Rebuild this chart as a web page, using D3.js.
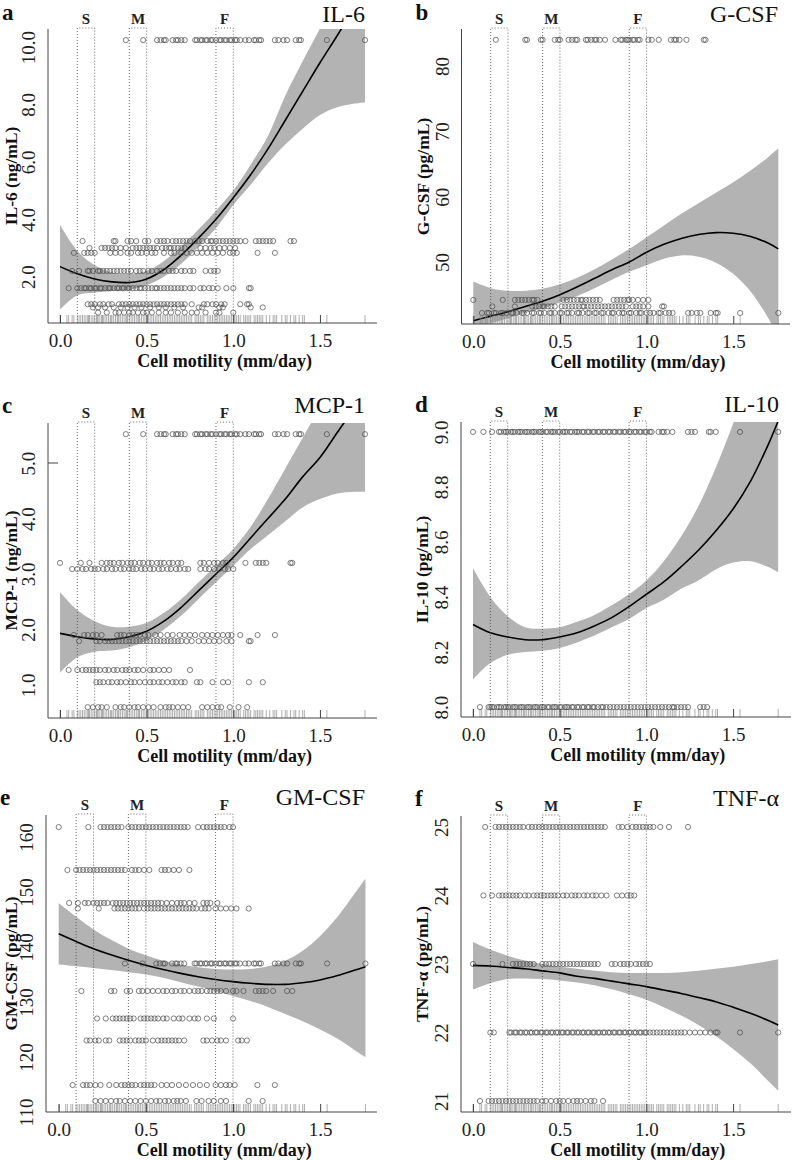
<!DOCTYPE html>
<html><head><meta charset="utf-8">
<script src="https://cdn.jsdelivr.net/npm/d3@7"></script>
<style>body{margin:0;background:#fff}svg text{font-family:"Liberation Serif","Times New Roman",serif}</style>
</head><body><svg id="c" width="793" height="1160"></svg>
<script>
// ---------- DATA ----------
const panelLetters = ["a","b","c","d","e","f"];
const panelTitles = ["IL-6","G-CSF","MCP-1","IL-10","GM-CSF","TNF-α"];
const yTitles = ["IL-6 (ng/mL)","G-CSF (pg/mL)","MCP-1 (ng/mL)","IL-10 (pg/mL)","GM-CSF (pg/mL)","TNF-α (pg/mL)"];
const xTitle = "Cell motility (mm/day)";
const xTicks = [0, 0.5, 1.0, 1.5];
const yTicksA = [2, 4, 6, 8, 10];
const yTicksB = [50, 60, 70, 80];
const yTicksC = [1, 2, 3, 4, 5];
const yTicksD = [8.0, 8.2, 8.4, 8.6, 8.8, 9.0];
const yTicksE = [110, 120, 130, 140, 150, 160];
const yTicksF = [21, 22, 23, 24, 25];
const boxLo = [0.1, 0.4, 0.9];
const boxHi = [0.2, 0.5, 1.0];
const boxLab = ["S", "M", "F"];

// rug: observed cell motility values
const motility = [0.0,0.04,0.05,0.07,0.08,0.1,0.11,0.12,0.13,0.14,0.15,0.16,0.165,0.17,0.18,0.19,0.2,0.21,0.215,0.22,0.23,0.24,0.245,0.25,0.26,0.27,0.28,0.29,0.295,0.3,0.31,0.32,0.33,0.335,0.34,0.35,0.36,0.37,0.38,0.385,0.39,0.4,0.41,0.42,0.43,0.44,0.45,0.455,0.46,0.47,0.48,0.49,0.5,0.51,0.52,0.53,0.54,0.55,0.56,0.57,0.58,0.59,0.6,0.61,0.62,0.63,0.64,0.65,0.66,0.67,0.68,0.69,0.7,0.71,0.72,0.73,0.74,0.75,0.76,0.78,0.79,0.8,0.81,0.82,0.83,0.85,0.86,0.87,0.88,0.89,0.9,0.91,0.92,0.93,0.94,0.95,0.96,0.97,0.98,0.99,1.0,1.01,1.02,1.03,1.04,1.06,1.07,1.08,1.09,1.1,1.12,1.13,1.14,1.15,1.16,1.17,1.19,1.21,1.23,1.24,1.25,1.28,1.3,1.31,1.33,1.35,1.36,1.38,1.4,1.41,1.54,1.76];

// fitted curve grid
const fitGrid = [0,0.1,0.2,0.3,0.4,0.5,0.6,0.7,0.8,0.9,1.0,1.1,1.2,1.3,1.4,1.5,1.6,1.7,1.76];
const fitA = [2.35,2.1,1.92,1.82,1.8,1.92,2.25,2.75,3.35,4.0,4.75,5.55,6.45,7.45,8.45,9.45,10.4,11.4,12.0];
const hiA  = [3.8,2.9,2.4,2.15,2.1,2.2,2.55,3.05,3.65,4.3,5.0,5.9,6.9,8.3,9.5,10.65,11.9,13.2,14.0];
const loA  = [0.85,1.35,1.45,1.5,1.55,1.7,2.0,2.45,3.05,3.7,4.5,5.2,5.95,6.6,7.15,7.63,7.9,8.03,8.07];
const fitB = [41.0,41.7,42.4,43.2,44.0,45.0,46.2,47.5,48.8,50.0,51.5,52.7,53.6,54.2,54.5,54.4,53.9,52.9,52.0];
const hiB  = [47.0,46.0,45.6,45.6,45.9,46.6,47.6,48.9,50.4,52.0,53.8,55.6,57.4,59.0,60.6,62.2,64.0,66.0,67.4];
const loB  = [39.5,40.6,41.4,42.2,42.9,43.8,44.8,46.0,47.3,48.5,49.5,50.5,51.0,50.8,49.9,48.2,45.5,41.5,38.5];
const fitC = [1.93,1.87,1.83,1.82,1.87,1.97,2.15,2.4,2.7,3.0,3.3,3.65,4.0,4.35,4.75,5.1,5.55,6.0,6.3];
const hiC  = [2.67,2.35,2.15,2.05,2.05,2.12,2.3,2.55,2.85,3.15,3.45,3.85,4.35,4.9,5.45,6.0,6.5,7.0,7.3];
const loC  = [1.22,1.5,1.6,1.62,1.68,1.8,2.0,2.25,2.55,2.85,3.15,3.45,3.7,3.95,4.2,4.35,4.45,4.48,4.48];
const fitD = [8.30,8.27,8.255,8.245,8.245,8.255,8.27,8.295,8.325,8.365,8.41,8.455,8.51,8.57,8.64,8.72,8.82,8.95,9.04];
const hiD  = [8.505,8.40,8.33,8.29,8.285,8.29,8.31,8.335,8.37,8.41,8.46,8.53,8.62,8.73,8.87,9.03,9.2,9.4,9.55];
const loD  = [8.10,8.16,8.19,8.20,8.205,8.215,8.235,8.26,8.29,8.32,8.36,8.39,8.43,8.46,8.50,8.525,8.53,8.51,8.49];
const fitE = [142.4,141.0,139.7,138.6,137.6,136.7,135.9,135.2,134.6,134.1,133.7,133.4,133.2,133.2,133.5,134.0,134.8,135.8,136.4];
const hiE  = [148.0,145.5,143.2,141.3,139.7,138.5,137.5,136.8,136.3,136.0,135.9,136.0,136.5,137.5,139.3,142.0,145.5,149.8,152.4];
const loE  = [136.8,136.5,136.2,135.8,135.4,135.0,134.4,133.6,132.8,132.0,131.1,130.2,129.1,127.8,126.5,125.0,123.3,121.2,120.0];
const fitF = [22.98,22.97,22.95,22.93,22.90,22.87,22.82,22.79,22.75,22.71,22.67,22.62,22.57,22.51,22.45,22.37,22.28,22.18,22.11];
const hiF  = [23.32,23.21,23.12,23.05,23.0,22.96,22.93,22.9,22.88,22.87,22.87,22.87,22.88,22.9,22.93,22.96,23.0,23.04,23.07];
const loF  = [22.63,22.72,22.78,22.79,22.78,22.76,22.73,22.69,22.63,22.56,22.48,22.37,22.25,22.11,21.95,21.76,21.55,21.3,21.15];

// observed points: one level per row, motility values on that row
const highRowX = [0.38,0.48,0.56,0.58,0.60,0.61,0.65,0.67,0.68,0.70,0.72,0.78,0.79,0.81,0.82,0.84,0.85,0.87,0.88,0.90,0.92,0.93,0.95,0.96,0.98,0.99,1.01,1.02,1.04,1.07,1.09,1.12,1.13,1.15,1.16,1.24,1.26,1.29,1.31,1.36,1.38,1.39,1.54,1.76];

const aLevels = [10.24, 3.24, 3.0, 2.83, 2.2, 1.6, 1.04, 0.93, 0.75];
const aRows = [
 highRowX,
 [0.13,0.31,0.32,0.39,0.41,0.44,0.49,0.51,0.56,0.58,0.60,0.62,0.65,0.67,0.69,0.71,0.73,0.75,0.78,0.80,0.82,0.85,0.87,0.88,0.90,0.92,0.94,0.96,0.98,1.00,1.02,1.04,1.07,1.13,1.15,1.17,1.19,1.21,1.23,1.33,1.35],
 [0.17,0.24,0.26,0.28,0.30,0.32,0.35,0.38,0.42,0.44,0.46,0.48,0.50,0.52,0.54,0.56,0.59,0.61,0.63,0.64,0.66,0.68,0.70,0.72,0.81,0.84,0.87,0.89,0.92,0.95,0.98,1.01],
 [0.08,0.14,0.16,0.18,0.20,0.29,0.32,0.35,0.39,0.41,0.45,0.47,0.50,0.53,0.55,0.60,0.64,0.66,0.70,0.73,0.76,0.79,0.82,0.85,0.88,0.91,0.94,0.98,1.00,1.02,1.14,1.24],
 [0.07,0.11,0.16,0.17,0.19,0.22,0.23,0.25,0.27,0.29,0.31,0.33,0.35,0.37,0.39,0.41,0.44,0.46,0.48,0.51,0.53,0.56,0.58,0.60,0.63,0.65,0.67,0.70,0.72,0.75,0.77,0.84,0.87,0.89,0.91],
 [0.05,0.10,0.12,0.14,0.15,0.17,0.18,0.20,0.21,0.23,0.24,0.26,0.28,0.29,0.31,0.33,0.34,0.36,0.37,0.39,0.40,0.42,0.44,0.46,0.47,0.49,0.51,0.53,0.55,0.56,0.58,0.60,0.62,0.64,0.66,0.68,0.70,0.72,0.75,0.77,0.81,0.83,0.86,0.88,0.91,0.96,1.00,1.09,1.10],
 [0.16,0.18,0.20,0.23,0.25,0.28,0.30,0.34,0.36,0.38,0.40,0.42,0.44,0.46,0.48,0.50,0.52,0.54,0.56,0.58,0.60,0.62,0.64,0.66,0.68,0.70,0.72,0.76,0.83,0.85,0.88,0.90,0.93,0.95,1.04,1.08,1.09],
 [0.19,0.22,0.26,0.31,0.35,0.39,0.43,0.47,0.52,0.57,0.61,0.66,0.71,0.80,0.82,0.92,0.94,1.10,1.17],
 [0.22,0.27,0.32,0.34,0.37,0.40,0.42,0.45,0.48,0.50,0.53,0.57,0.61,0.64,0.68,0.72,0.76,0.79,0.84,0.90,0.92,1.00]
];
const bLevels = [84, 44.2, 43.2, 42.2];
const bRows = [
 [0.13,0.30,0.31,0.39,0.40,0.47,0.49,0.50,0.55,0.57,0.59,0.60,0.65,0.66,0.68,0.70,0.71,0.73,0.76,0.82,0.85,0.86,0.88,0.89,0.90,0.92,0.93,0.95,0.96,1.01,1.03,1.07,1.14,1.16,1.17,1.19,1.23,1.33,1.34],
 [0.0,0.17,0.24,0.26,0.28,0.30,0.32,0.34,0.35,0.37,0.52,0.54,0.56,0.58,0.60,0.62,0.63,0.65,0.67,0.69,0.71,0.73,0.81,0.83,0.85,0.87,0.89,0.90,0.92,0.95,0.98,1.01],
 [0.11,0.24,0.34,0.36,0.38,0.40,0.41,0.43,0.45,0.47,0.51,0.53,0.55,0.57,0.59,0.61,0.63,0.64,0.66,0.68,0.70,0.72,0.74,0.76,0.78,0.80,0.82,0.84,0.86,0.88,0.92,0.94,0.96,0.98,1.01,1.09,1.10],
 [0.05,0.08,0.09,0.12,0.13,0.16,0.17,0.19,0.22,0.23,0.25,0.28,0.29,0.31,0.34,0.35,0.38,0.39,0.41,0.44,0.45,0.47,0.50,0.51,0.54,0.55,0.57,0.60,0.61,0.63,0.66,0.67,0.70,0.71,0.74,0.75,0.78,0.80,0.81,0.84,0.86,0.87,0.90,0.91,0.94,0.96,0.97,1.00,1.02,1.04,1.07,1.08,1.11,1.13,1.15,1.24,1.26,1.29,1.31,1.37,1.40,1.41,1.54,1.76]
];
const cLevels = [5.52, 3.2, 3.09, 1.9, 1.79, 1.27, 1.05, 0.6];
const cRows = [
 highRowX,
 [0.0,0.12,0.17,0.24,0.27,0.29,0.31,0.34,0.36,0.39,0.41,0.43,0.46,0.48,0.51,0.53,0.56,0.58,0.60,0.63,0.65,0.68,0.70,0.81,0.83,0.86,0.89,0.91,0.94,0.96,1.07,1.13,1.15,1.17,1.19,1.33,1.34],
 [0.07,0.10,0.13,0.15,0.18,0.20,0.22,0.25,0.27,0.30,0.32,0.35,0.37,0.40,0.42,0.44,0.47,0.49,0.52,0.54,0.57,0.59,0.62,0.64,0.67,0.69,0.72,0.74,0.81,0.84,0.86,0.89,0.92,0.95,0.97,1.00],
 [0.08,0.14,0.16,0.19,0.21,0.24,0.33,0.35,0.37,0.40,0.42,0.44,0.46,0.49,0.51,0.55,0.58,0.62,0.65,0.69,0.72,0.75,0.78,0.82,0.85,0.88,0.91,0.94,0.97,0.99,1.04,1.14,1.24],
 [0.11,0.21,0.23,0.26,0.28,0.30,0.32,0.34,0.36,0.38,0.40,0.42,0.44,0.46,0.48,0.50,0.52,0.54,0.56,0.58,0.60,0.62,0.64,0.66,0.68,0.70,0.73,0.76,0.80,0.83,0.86,0.89,0.92,0.96,0.99,1.09,1.10],
 [0.05,0.10,0.13,0.15,0.17,0.19,0.21,0.23,0.26,0.28,0.31,0.33,0.36,0.38,0.40,0.43,0.45,0.48,0.52,0.54,0.57,0.60,0.63,0.75],
 [0.21,0.23,0.25,0.28,0.30,0.33,0.35,0.38,0.41,0.43,0.46,0.49,0.52,0.54,0.57,0.59,0.62,0.65,0.67,0.70,0.72,0.79,0.81,0.88,0.94,0.97,1.09,1.17],
 [0.16,0.19,0.22,0.24,0.27,0.32,0.35,0.37,0.40,0.43,0.45,0.48,0.51,0.54,0.58,0.61,0.63,0.65,0.68,0.71,0.74,0.82,0.85,0.88,0.91,0.93,0.98,1.03,1.08]
];
const dLevels = [9.0, 8.0];
const dRows = [
 [0.0,0.06,0.11,0.15,0.16,0.18,0.19,0.2,0.22,0.23,0.24,0.26,0.27,0.28,0.3,0.31,0.32,0.34,0.35,0.36,0.38,0.39,0.4,0.42,0.43,0.45,0.46,0.47,0.49,0.5,0.52,0.53,0.54,0.56,0.57,0.59,0.6,0.61,0.63,0.64,0.66,0.67,0.69,0.7,0.72,0.73,0.75,0.76,0.78,0.79,0.81,0.82,0.84,0.85,0.87,0.88,0.9,0.91,0.93,0.94,0.96,0.97,0.99,1.0,1.02,1.03,1.07,1.09,1.1,1.12,1.15,1.24,1.26,1.28,1.36,1.37,1.4,1.54,1.76],
 [0.04,0.09,0.1,0.11,0.12,0.14,0.15,0.16,0.18,0.19,0.2,0.21,0.23,0.24,0.25,0.27,0.28,0.29,0.31,0.32,0.33,0.35,0.36,0.37,0.39,0.4,0.41,0.43,0.44,0.46,0.47,0.48,0.5,0.51,0.53,0.54,0.55,0.57,0.58,0.6,0.61,0.63,0.64,0.66,0.67,0.69,0.7,0.72,0.74,0.75,0.77,0.79,0.81,0.83,0.85,0.87,0.89,0.91,0.93,0.95,0.97,0.99,1.01,1.03,1.05,1.07,1.09,1.11,1.13,1.15,1.16,1.18,1.2,1.22,1.24,1.31,1.33,1.35]
];
const eLevels = [161.8, 154, 148, 147, 137, 132, 127, 123, 114.9, 112];
const eRows = [
 [0.0,0.17,0.24,0.26,0.28,0.30,0.32,0.34,0.36,0.40,0.42,0.44,0.46,0.48,0.50,0.52,0.54,0.56,0.58,0.60,0.62,0.64,0.66,0.68,0.70,0.72,0.74,0.80,0.83,0.85,0.87,0.89,0.91,0.93,0.95,0.98,1.00],
 [0.05,0.10,0.12,0.14,0.16,0.18,0.20,0.22,0.24,0.26,0.28,0.30,0.32,0.34,0.36,0.38,0.42,0.44,0.46,0.49,0.52,0.59,0.61,0.63,0.66,0.69,0.75],
 [0.06,0.11,0.15,0.17,0.20,0.22,0.24,0.26,0.28,0.31,0.33,0.35,0.37,0.39,0.41,0.43,0.45,0.47,0.49,0.51,0.53,0.55,0.57,0.59,0.62,0.65,0.68,0.70,0.72,0.75,0.78,0.83,0.85,0.87,0.91],
 [0.11,0.23,0.32,0.34,0.36,0.38,0.40,0.42,0.44,0.46,0.49,0.51,0.53,0.55,0.57,0.59,0.61,0.63,0.65,0.67,0.69,0.71,0.73,0.75,0.77,0.79,0.82,0.84,0.86,0.90,0.93,0.96,0.99,1.02,1.09],
 highRowX,
 [0.13,0.30,0.32,0.39,0.41,0.46,0.48,0.51,0.54,0.57,0.60,0.62,0.65,0.67,0.70,0.72,0.75,0.78,0.80,0.82,0.85,0.87,0.89,0.91,0.93,0.96,1.00,1.02,1.06,1.13,1.15,1.17,1.19,1.23,1.31,1.34],
 [0.22,0.27,0.31,0.33,0.35,0.37,0.39,0.41,0.43,0.47,0.49,0.51,0.53,0.55,0.57,0.60,0.62,0.66,0.69,0.71,0.75,0.78,0.80,0.85,0.89,1.00],
 [0.16,0.18,0.21,0.23,0.27,0.29,0.35,0.37,0.39,0.41,0.44,0.46,0.48,0.50,0.54,0.57,0.59,0.61,0.63,0.65,0.67,0.69,0.72,0.83,0.85,0.88,0.91,0.93,0.96,1.03,1.05,1.08],
 [0.08,0.14,0.16,0.18,0.21,0.24,0.29,0.33,0.36,0.38,0.40,0.42,0.44,0.47,0.49,0.51,0.53,0.55,0.59,0.62,0.65,0.69,0.73,0.77,0.81,0.85,0.90,0.93,0.96,0.98,1.01,1.14,1.24],
 [0.21,0.24,0.27,0.30,0.33,0.35,0.38,0.41,0.44,0.47,0.50,0.53,0.56,0.58,0.61,0.63,0.66,0.68,0.70,0.73,0.79,0.82,0.86,0.89,0.93,0.96,1.09,1.17]
];
const fLevels = [25, 24, 23, 22, 21];
const fRows = [
 [0.07,0.13,0.15,0.17,0.19,0.21,0.23,0.25,0.27,0.29,0.32,0.34,0.36,0.38,0.40,0.42,0.44,0.46,0.48,0.50,0.52,0.54,0.56,0.58,0.60,0.62,0.64,0.66,0.68,0.70,0.72,0.74,0.76,0.84,0.86,0.89,0.92,0.94,0.96,0.98,1.00,1.02,1.04,1.08,1.13,1.24],
 [0.06,0.11,0.15,0.17,0.19,0.21,0.23,0.25,0.27,0.30,0.32,0.35,0.37,0.39,0.41,0.43,0.45,0.47,0.49,0.52,0.54,0.57,0.59,0.61,0.64,0.66,0.69,0.71,0.74,0.77,0.83,0.86,0.89,0.91,0.93],
 [0.0,0.17,0.23,0.25,0.27,0.29,0.31,0.33,0.35,0.40,0.42,0.44,0.46,0.48,0.50,0.52,0.54,0.56,0.58,0.60,0.62,0.64,0.66,0.68,0.70,0.72,0.80,0.82,0.85,0.87,0.89,0.91,0.94,0.96,0.98,1.00,1.02],
 [0.10,0.12,0.21,0.22,0.24,0.25,0.27,0.28,0.3,0.31,0.33,0.34,0.36,0.37,0.39,0.4,0.42,0.43,0.45,0.46,0.48,0.49,0.51,0.52,0.54,0.55,0.57,0.58,0.6,0.61,0.63,0.64,0.66,0.67,0.69,0.7,0.72,0.73,0.75,0.76,0.78,0.79,0.81,0.82,0.84,0.85,0.87,0.88,0.9,0.91,0.93,0.94,0.96,0.97,0.99,1.0,1.02,1.04,1.06,1.08,1.1,1.12,1.14,1.16,1.18,1.2,1.22,1.25,1.28,1.31,1.34,1.37,1.4,1.41,1.54,1.76],
 [0.04,0.09,0.11,0.13,0.15,0.17,0.19,0.21,0.23,0.25,0.27,0.29,0.31,0.33,0.35,0.37,0.40,0.42,0.45,0.48,0.50,0.52,0.55,0.58,0.60,0.62,0.65,0.68,0.70,0.75]
];

// ---------- LAYOUT (positions / styles) ----------
const panels = [
 {ax:48, x0:60, ux:173.3, xEnd:377, top:29, bottom:323, yDom:[0.387,10.627], yTicks:yTicksA, fmt:".1f", fit:fitA, hi:hiA, lo:loA, lv:aLevels, rows:aRows},
 {ax:461.5, x0:473.3, ux:173.3, xEnd:790, top:29, bottom:324, yDom:[40.51,85.66], yTicks:yTicksB, fmt:"d", fit:fitB, hi:hiB, lo:loB, lv:bLevels, rows:bRows},
 {ax:48, x0:60, ux:173.3, xEnd:377, top:423, bottom:718, yDom:[0.405,5.721], yTicks:yTicksC, fmt:".1f", fit:fitC, hi:hiC, lo:loC, lv:cLevels, rows:cRows, tick5:true},
 {ax:461, x0:473, ux:173.4, xEnd:791, top:422, bottom:717, yDom:[7.964,9.036], yTicks:yTicksD, fmt:".1f", fit:fitD, hi:hiD, lo:loD, lv:dLevels, rows:dRows},
 {ax:46, x0:58.7, ux:174.3, xEnd:377, top:815, bottom:1112, yDom:[110,164], yTicks:yTicksE, fmt:"d", fit:fitE, hi:hiE, lo:loE, lv:eLevels, rows:eRows},
 {ax:461, x0:473, ux:173.4, xEnd:791, top:816, bottom:1112, yDom:[20.84,25.16], yTicks:yTicksF, fmt:"d", fit:fitF, hi:hiF, lo:loF, lv:fLevels, rows:fRows}
];

const FONT = '"Liberation Serif","Times New Roman",serif';
const svg = d3.select("#c");
const defs = svg.append("defs");

panels.forEach((p, i) => {
  const x = d3.scaleLinear().domain([0, 1.76]).range([p.x0, p.x0 + 1.76 * p.ux]);
  const y = d3.scaleLinear().domain(p.yDom).range([p.bottom, p.top]);
  const g = svg.append("g");
  const cid = "clip" + i;
  defs.append("clipPath").attr("id", cid).append("rect")
    .attr("x", p.ax).attr("y", p.top).attr("width", p.xEnd - p.ax).attr("height", p.bottom - p.top);

  const band = fitGrid.map((gx, k) => ({x: gx, fit: p.fit[k], lo: p.lo[k], hi: p.hi[k]}));
  const pg = g.append("g").attr("clip-path", `url(#${cid})`);
  pg.append("path").datum(band)
    .attr("d", d3.area().x(d => x(d.x)).y0(d => y(d.lo)).y1(d => y(d.hi)).curve(d3.curveCatmullRom))
    .attr("fill", "#b3b3b3");

  // dotted S/M/F boxes
  boxLo.forEach((lo, k) => {
    const hi = boxHi[k];
    const t = p.top - 1;
    g.append("path").attr("d", `M${x(lo)},${p.bottom}V${t}H${x(hi)}V${p.bottom}`)
      .attr("stroke", "#444").attr("stroke-width", 0.8).attr("stroke-dasharray", "1,2").attr("fill", "none");
    g.append("text").attr("x", x((lo + hi) / 2)).attr("y", p.top - 5)
      .attr("text-anchor", "middle").attr("font-size", 15).attr("font-weight", "bold").attr("fill", "#222")
      .text(boxLab[k]);
  });

  // rug
  g.append("g").selectAll("line").data(motility).join("line")
    .attr("x1", d => x(d)).attr("x2", d => x(d))
    .attr("y1", p.bottom).attr("y2", p.bottom - 8)
    .attr("stroke", "#8c8c8c").attr("stroke-width", 0.7);

  // points
  const pts = [];
  p.rows.forEach((row, r) => row.forEach(v => pts.push([v, p.lv[r]])));
  g.append("g").selectAll("circle").data(pts).join("circle")
    .attr("cx", d => x(d[0])).attr("cy", d => y(d[1])).attr("r", 2.6)
    .attr("fill", "none").attr("stroke", "#4a4a4a").attr("stroke-width", 0.7);

  // curve
  pg.append("path").datum(band)
    .attr("d", d3.line().x(d => x(d.x)).y(d => y(d.fit)).curve(d3.curveCatmullRom))
    .attr("fill", "none").attr("stroke", "#000").attr("stroke-width", 1.6);

  // axes lines
  g.append("line").attr("x1", p.ax).attr("x2", p.xEnd).attr("y1", p.bottom).attr("y2", p.bottom)
    .attr("stroke", "#444").attr("stroke-width", 1);
  g.append("line").attr("x1", p.ax).attr("x2", p.ax).attr("y1", p.top).attr("y2", p.bottom)
    .attr("stroke", "#444").attr("stroke-width", 1);

  // x axis
  const xa = g.append("g").attr("transform", `translate(0,${p.bottom})`)
    .call(d3.axisBottom(x).tickValues(xTicks).tickFormat(d3.format(".1f")).tickSize(-8).tickPadding(11));
  xa.attr("font-family", null);
  xa.select(".domain").remove();
  xa.selectAll("line").attr("stroke", "#444");
  xa.selectAll("text").attr("font-size", 19).attr("fill", "#222").style("font-family", FONT);

  // y axis (rotated labels)
  const ya = g.append("g").attr("transform", `translate(${p.ax},0)`)
    .call(d3.axisLeft(y).tickValues(p.yTicks).tickFormat(d3.format(p.fmt)).tickSize(0));
  ya.attr("font-family", null);
  ya.select(".domain").remove();
  ya.selectAll("line").remove();
  ya.selectAll("text").attr("transform", "rotate(-90)").attr("x", 0).attr("y", -13).attr("dy", 0)
    .attr("text-anchor", "middle").attr("font-size", 19).attr("fill", "#222").style("font-family", FONT);
  if (p.tick5) {
    g.append("line").attr("x1", p.ax).attr("x2", p.ax + 10).attr("y1", y(5)).attr("y2", y(5)).attr("stroke", "#444");
  }

  // titles
  g.append("text").attr("x", x(0.95)).attr("y", p.bottom + 44)
    .attr("text-anchor", "middle").attr("font-size", 18).attr("font-weight", "bold").attr("fill", "#111")
    .text(xTitle);
  g.append("text").attr("transform", `translate(${Math.max(p.ax - 33, 16.5)},${(p.top + p.bottom) / 2}) rotate(-90)`)
    .attr("text-anchor", "middle").attr("font-size", 17.5).attr("font-weight", "bold").attr("fill", "#111")
    .text(yTitles[i]);
  g.append("text").attr("x", p.xEnd - 12).attr("y", Math.max(p.top - 10, 22))
    .attr("text-anchor", "end").attr("font-size", 24).attr("fill", "#111").text(panelTitles[i]);
  g.append("text").attr("x", p.ax - 46).attr("y", Math.max(p.top - 10, 20))
    .attr("font-size", 23).attr("font-weight", "bold").attr("fill", "#111").text(panelLetters[i]);
});
</script></body></html>
